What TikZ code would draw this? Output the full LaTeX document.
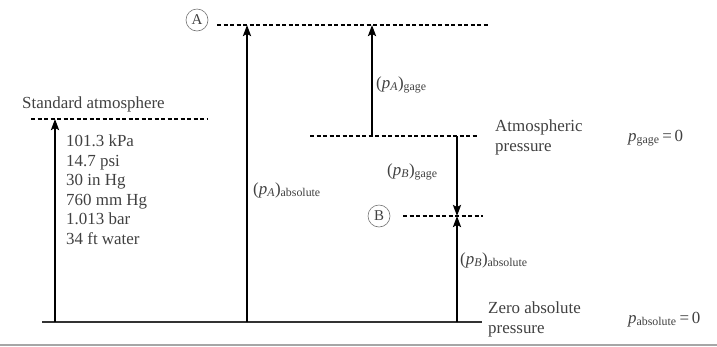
\documentclass[tikz,border=0pt]{standalone}
\usepackage{fontspec}
\setmainfont{Liberation Serif}
\usetikzlibrary{arrows.meta}
\tikzset{
  level/.style={line width=1.6bp, dash pattern=on 4bp off 2.5bp},
  bar/.style={line width=2bp},
  lbl/.style={anchor=base west, inner sep=0pt, text=black!75, align=left,
    font=\fontsize{17}{19.5}\selectfont},
  spot/.style={circle, draw=black!55, semithick, inner sep=0pt, minimum size=22bp,
    text=black!75, font=\fontsize{15}{15}\selectfont},
}
\newcommand{\gsub}[1]{\textsubscript{#1}}
\begin{document}
\begin{tikzpicture}[x=1bp, y=-1bp, >={Stealth[length=11bp,width=8bp,inset=2bp]}]
\useasboundingbox (0,0) rectangle (717,346);

% levels
\coordinate(Z1) at (42,322);
\coordinate(Z2) at (482,322);
\coordinate(F1) at (0,345);
\coordinate(F2) at (717,345);
\coordinate(S1) at (31,119);
\coordinate(S2) at (207,119);
\coordinate(T1) at (217,25);
\coordinate(T2) at (490,25);
\coordinate(M1) at (310,136);
\coordinate(M2) at (477,136);
\coordinate(N1) at (403,216);
\coordinate(N2) at (483,216);

% arrow ends
\coordinate(SA) at (55,322);
\coordinate(SB) at (55,119);
\coordinate(AA) at (247,322);
\coordinate(AB) at (247,25);
\coordinate(GA) at (372,136);
\coordinate(GB) at (372,25);
\coordinate(BA) at (457,136);
\coordinate(BB) at (457,216);
\coordinate(BC) at (457,322);

\draw[bar, black!80](Z1) -- (Z2);
\draw[line width=1.2bp, black!35](F1) -- (F2);
\draw[level](S1) -- (S2);
\draw[level](T1) -- (T2);
\draw[level](M1) -- (M2);
\draw[level](N1) -- (N2);

\draw[bar, ->](SA) -- (SB);
\draw[bar, ->](AA) -- (AB);
\draw[bar, ->](GA) -- (GB);
\draw[bar, ->](BA) -- (BB);
\draw[bar, ->](BC) -- (BB);

\node[spot](A) at (197,20){A};
\node[spot](B) at (379,216){B};

% multi-line labels sit on their last baseline
\node[lbl](std) at (22,108){Standard atmosphere};
\node[lbl](vals) at (66,244){101.3 kPa\\14.7 psi\\30 in Hg\\760 mm Hg\\1.013 bar\\34 ft water};
\node[lbl](pag) at (376,88){(\textit{p}\gsub{\textit{A}})\gsub{gage}};
\node[lbl](paa) at (253,194){(\textit{p}\gsub{\textit{A}})\gsub{absolute}};
\node[lbl](pbg) at (387,175){(\textit{p}\gsub{\textit{B}})\gsub{gage}};
\node[lbl](pba) at (460,264){(\textit{p}\gsub{\textit{B}})\gsub{absolute}};
\node[lbl](atm) at (495,151){Atmospheric\\pressure};
\node[lbl](zero) at (488,333){Zero absolute\\pressure};
\node[lbl](gz) at (628,141){\textit{p}\gsub{gage}\,=\,0};
\node[lbl](az) at (628,323){\textit{p}\gsub{absolute}\,=\,0};
\end{tikzpicture}
\end{document}
